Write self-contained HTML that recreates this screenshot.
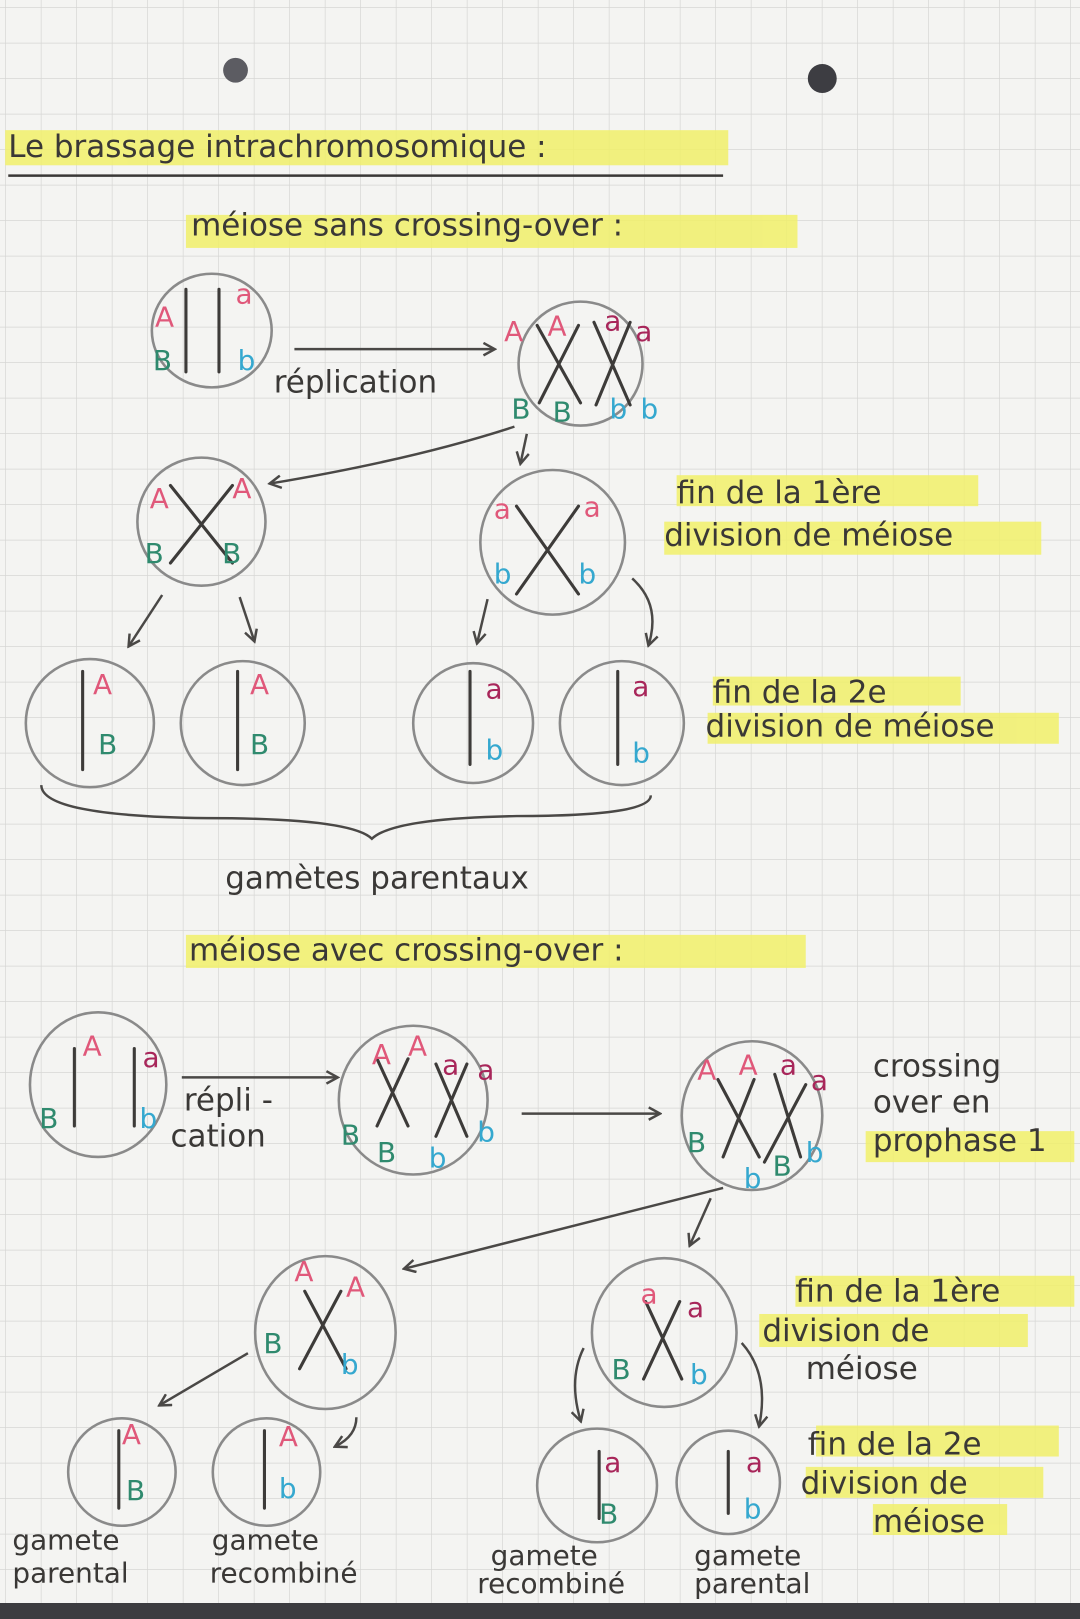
<!DOCTYPE html>
<html><head><meta charset="utf-8"><style>
html,body{margin:0;padding:0;background:#f3f3f1;}
svg{display:block}
text{font-family:"DejaVu Sans","Liberation Sans",sans-serif;fill:#3a3836}
.t{font-size:30px}
.s{font-size:27px}
.p{fill:#e0587a}.g{fill:#2f8a6e}.c{fill:#35a8cf}.r{fill:#a8265a}
</style></head><body>
<svg width="1080" height="1619" viewBox="0 0 1080 1619" xmlns="http://www.w3.org/2000/svg">
<defs>
<pattern id="grid" width="35.5" height="35.5" patternUnits="userSpaceOnUse" x="6" y="8">
<path d="M35.5 0V35.5H0" fill="none" stroke="#d6d6d4" stroke-width="1.4"/>
</pattern>
<marker id="ah" markerWidth="14" markerHeight="14" refX="11" refY="7" orient="auto" markerUnits="userSpaceOnUse">
<path d="M1 1L12 7L1 13" fill="none" stroke="#4a4846" stroke-width="2.4"/>
</marker>
</defs>
<rect width="1080" height="1619" fill="#f4f4f2"/>
<rect width="1080" height="1619" fill="url(#grid)"/>
<rect x="0" y="1603" width="1080" height="16" fill="#3c3c40"/>
<g transform="scale(1.033)">
<circle cx="228" cy="68" r="12" fill="#5c5c62"/>
<circle cx="796" cy="76" r="14" fill="#3d3d42"/>
<g fill="#f1f06a" opacity="0.85">
<rect x="5" y="126" width="700" height="34"/>
<rect x="180" y="208" width="592" height="32"/>
<rect x="655" y="460" width="292" height="30"/>
<rect x="643" y="505" width="365" height="32"/>
<rect x="690" y="655" width="240" height="28"/>
<rect x="685" y="690" width="340" height="30"/>
<rect x="180" y="905" width="600" height="32"/>
<rect x="838" y="1095" width="202" height="30"/>
<rect x="770" y="1235" width="270" height="30"/>
<rect x="735" y="1272" width="260" height="32"/>
<rect x="790" y="1380" width="235" height="30"/>
<rect x="780" y="1420" width="230" height="30"/>
<rect x="845" y="1456" width="130" height="30"/>
</g>
<text x="8" y="152" class="t">Le brassage intrachromosomique :</text>
<path d="M8 170H700" stroke="#3a3836" stroke-width="2.5"/>
<text x="185" y="228" class="t">méiose sans crossing-over :</text>
<g fill="none" stroke="#8a8a8a" stroke-width="2.5">
<ellipse cx="205" cy="320" rx="58" ry="55"/>
<circle cx="562" cy="352" r="60"/>
<circle cx="195" cy="505" r="62"/>
<ellipse cx="535" cy="525" rx="70" ry="70"/>
<circle cx="87" cy="700" r="62"/>
<circle cx="235" cy="700" r="60"/>
<circle cx="458" cy="700" r="58"/>
<circle cx="602" cy="700" r="60"/>
<ellipse cx="95" cy="1050" rx="66" ry="70"/>
<ellipse cx="400" cy="1065" rx="72" ry="72"/>
<ellipse cx="728" cy="1080" rx="68" ry="72"/>
<ellipse cx="315" cy="1290" rx="68" ry="74"/>
<ellipse cx="643" cy="1290" rx="70" ry="72"/>
<circle cx="118" cy="1425" r="52"/>
<circle cx="258" cy="1425" r="52"/>
<ellipse cx="578" cy="1438" rx="58" ry="55"/>
<circle cx="705" cy="1435" r="50"/>
</g>
<g stroke="#3d3b39" stroke-width="3" fill="none" stroke-linecap="round">
<path d="M180 280V360M212 280V360"/>
<path d="M520 315L562 390M560 315L522 390M575 312L610 392M610 312L577 392"/>
<path d="M165 470L225 545M225 470L165 545"/>
<path d="M500 490L560 575M560 490L500 575"/>
<path d="M80 650V745M230 650V745M455 650V740M598 650V740"/>
<path d="M72 1015V1090M130 1015V1090"/>
<path d="M365 1025L395 1090M395 1025L365 1090M422 1030L452 1100M452 1030L422 1100"/>
<path d="M695 1045L735 1120M730 1045L700 1120M750 1040L775 1120M780 1050L740 1125"/>
<path d="M295 1250L335 1325M330 1250L290 1325"/>
<path d="M625 1260L660 1335M658 1260L623 1335"/>
<path d="M115 1385V1460M256 1385V1460M580 1405V1470M705 1405V1465"/>
</g>
<g stroke="#4a4846" stroke-width="2.4" fill="none" marker-end="url(#ah)">
<path d="M285 338H478"/>
<path d="M498 413Q400 445 262 468"/>
<path d="M510 420L504 448"/>
<path d="M157 576L125 625"/>
<path d="M232 578L246 620"/>
<path d="M472 580L462 622"/>
<path d="M612 560Q640 585 628 624"/>
<path d="M176 1043H326"/>
<path d="M505 1078H638"/>
<path d="M688 1160L668 1205"/>
<path d="M700 1150L392 1228"/>
<path d="M240 1310L155 1360"/>
<path d="M345 1372Q345 1390 325 1400"/>
<path d="M565 1305Q550 1335 562 1375"/>
<path d="M718 1300Q745 1330 735 1380"/>
<path d="M40 760Q40 790 200 792Q340 792 360 812Q380 792 500 790Q630 790 630 770" marker-end="none"/>
</g>
<text x="265" y="380" class="t">réplication</text>
<text x="150" y="316" class="s p">A</text><text x="228" y="294" class="s p">a</text>
<text x="148" y="358" class="s g">B</text><text x="230" y="358" class="s c">b</text>
<text x="488" y="330" class="s p">A</text><text x="530" y="325" class="s p">A</text><text x="585" y="320" class="s r">a</text><text x="615" y="330" class="s r">a</text>
<text x="495" y="405" class="s g">B</text><text x="535" y="408" class="s g">B</text><text x="590" y="405" class="s c">b</text><text x="620" y="405" class="s c">b</text>
<text x="145" y="492" class="s p">A</text><text x="225" y="482" class="s p">A</text><text x="140" y="545" class="s g">B</text><text x="215" y="545" class="s g">B</text>
<text x="478" y="502" class="s p">a</text><text x="565" y="500" class="s p">a</text><text x="478" y="565" class="s c">b</text><text x="560" y="565" class="s c">b</text>
<text x="90" y="672" class="s p">A</text><text x="95" y="730" class="s g">B</text>
<text x="242" y="672" class="s p">A</text><text x="242" y="730" class="s g">B</text>
<text x="470" y="676" class="s r">a</text><text x="470" y="735" class="s c">b</text>
<text x="612" y="674" class="s r">a</text><text x="612" y="738" class="s c">b</text>
<text x="655" y="487" class="t">fin de la 1ère</text>
<text x="643" y="528" class="t">division de méiose</text>
<text x="690" y="680" class="t">fin de la 2e</text>
<text x="683" y="713" class="t">division de méiose</text>
<text x="218" y="860" class="t">gamètes parentaux</text>
<text x="183" y="930" class="t">méiose avec crossing-over :</text>
<text x="80" y="1022" class="s p">A</text><text x="138" y="1033" class="s r">a</text><text x="38" y="1092" class="s g">B</text><text x="135" y="1092" class="s c">b</text>
<text x="178" y="1075" class="t">répli -</text><text x="165" y="1110" class="t">cation</text>
<text x="360" y="1030" class="s p">A</text><text x="395" y="1022" class="s p">A</text><text x="428" y="1040" class="s r">a</text><text x="462" y="1045" class="s r">a</text>
<text x="330" y="1108" class="s g">B</text><text x="365" y="1125" class="s g">B</text><text x="415" y="1130" class="s c">b</text><text x="462" y="1105" class="s c">b</text>
<text x="675" y="1045" class="s p">A</text><text x="715" y="1040" class="s p">A</text><text x="755" y="1040" class="s r">a</text><text x="785" y="1055" class="s r">a</text>
<text x="665" y="1115" class="s g">B</text><text x="720" y="1150" class="s c">b</text><text x="748" y="1138" class="s g">B</text><text x="780" y="1125" class="s c">b</text>
<text x="845" y="1042" class="t">crossing</text><text x="845" y="1077" class="t">over en</text><text x="845" y="1114" class="t">prophase 1</text>
<text x="285" y="1240" class="s p">A</text><text x="335" y="1255" class="s p">A</text><text x="255" y="1310" class="s g">B</text><text x="330" y="1330" class="s c">b</text>
<text x="620" y="1262" class="s p">a</text><text x="665" y="1275" class="s r">a</text><text x="592" y="1335" class="s g">B</text><text x="668" y="1340" class="s c">b</text>
<text x="770" y="1260" class="t">fin de la 1ère</text><text x="738" y="1298" class="t">division de</text><text x="780" y="1335" class="t">méiose</text>
<text x="118" y="1398" class="s p">A</text><text x="122" y="1452" class="s g">B</text>
<text x="270" y="1400" class="s p">A</text><text x="270" y="1450" class="s c">b</text>
<text x="585" y="1425" class="s r">a</text><text x="580" y="1475" class="s g">B</text>
<text x="722" y="1425" class="s r">a</text><text x="720" y="1470" class="s c">b</text>
<text x="782" y="1408" class="t">fin de la 2e</text><text x="775" y="1446" class="t">division de</text><text x="845" y="1483" class="t">méiose</text>
<text x="12" y="1500" class="s">gamete</text><text x="12" y="1532" class="s">parental</text>
<text x="205" y="1500" class="s">gamete</text><text x="203" y="1532" class="s">recombiné</text>
<text x="475" y="1515" class="s">gamete</text><text x="462" y="1542" class="s">recombiné</text>
<text x="672" y="1515" class="s">gamete</text><text x="672" y="1542" class="s">parental</text>
</g>
</svg>
</body></html>
